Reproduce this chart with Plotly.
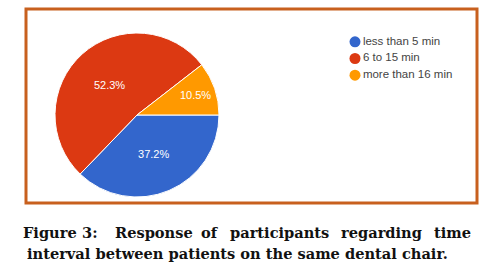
import plotly.graph_objects as go

labels = ["less than 5 min", "6 to 15 min", "more than 16 min"]
values = [37.2, 52.3, 10.5]
colors = ["#3366cc", "#dc3912", "#ff9900"]

caption_line1 = ["Figure", "3:", "Response", "of", "participants", "regarding", "time"]
caption_line1_cx = [50, 89.5, 153.5, 210, 279.5, 381.5, 452]
caption_line2 = "interval between patients on the same dental chair."

W, H = 500, 273

fig = go.Figure()
fig.add_trace(go.Pie(
    labels=labels, values=values, sort=False, direction="clockwise", rotation=90,
    marker=dict(colors=colors, line=dict(color="white", width=1)),
    texttemplate="%{percent:.1%}", textposition="inside",
    insidetextfont=dict(color="white", size=11, family="Arial, Liberation Sans"),
    showlegend=False, hoverinfo="label+percent",
    domain=dict(x=[55/W, 219/W], y=[1-197/H, 1-33/H]),
))
# legend drawn as a categorical scatter on hidden axes
fig.add_trace(go.Scatter(
    x=[0]*len(labels), y=labels, mode="markers+text", text=labels,
    textposition="middle right", cliponaxis=False, showlegend=False, hoverinfo="skip",
    marker=dict(color=colors, size=11, symbol="circle"),
    textfont=dict(family="Arial, Liberation Sans", size=11.5, color="#444"),
))

fig.add_shape(type="rect", xref="paper", yref="paper",
              x0=26/W, x1=477/W, y0=1-203/H, y1=1-9/H,
              line=dict(color="#c8601e", width=3), fillcolor="rgba(0,0,0,0)")

cap_font = dict(family="DejaVu Serif", size=14.6, color="#111")
for w, x in zip(caption_line1, caption_line1_cx):
    fig.add_annotation(text="<b>%s</b>" % w, x=x/W, y=1-232/H, xref="paper", yref="paper",
                       xanchor="center", yanchor="middle", showarrow=False, font=cap_font,
                       borderpad=0)
fig.add_annotation(text="<b>%s</b>" % caption_line2, x=26/W, y=1-253/H, xref="paper", yref="paper",
                   xanchor="left", yanchor="middle", showarrow=False, font=cap_font, borderpad=0)

fig.update_layout(
    width=W, height=H, margin=dict(l=0, r=0, t=0, b=0),
    paper_bgcolor="white", plot_bgcolor="rgba(0,0,0,0)",
    xaxis=dict(visible=False, domain=[355/W, 470/W], range=[0, 10], fixedrange=True),
    yaxis=dict(visible=False, type="category", domain=[1-83.5/H, 1-33.5/H],
               range=[2.5, -0.5], fixedrange=True),
)
html = fig.to_html(include_plotlyjs=True, full_html=True, config={"displayModeBar": False})
html = html.replace("<head>", "<head><style>html,body{margin:0;padding:0;overflow:hidden;}</style>", 1)
with open("out.html", "w", encoding="utf-8") as f:
    f.write(html)
